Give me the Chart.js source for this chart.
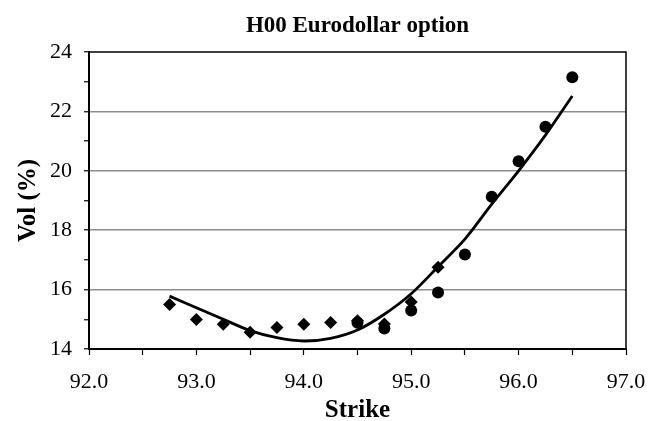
<!DOCTYPE html>
<html>
<head>
<meta charset="utf-8">
<script src="https://cdn.jsdelivr.net/npm/chart.js@4"></script>
<style>
  html, body { margin: 0; padding: 0; background: #fff; }
  #wrap { width: 655px; height: 421px; }
</style>
</head>
<body>
<div id="wrap"><canvas id="grafico" width="655" height="421"></canvas></div>
<script>
// strikes and vols
const strikesRombo = [92.75, 93.0, 93.25, 93.5, 93.75, 94.0, 94.25, 94.5, 94.75, 95.0, 95.25];
const volRombo = [15.50, 14.99, 14.83, 14.56, 14.72, 14.83, 14.89, 14.95, 14.84, 15.58, 16.75];

const strikesCirculo = [94.5, 94.75, 95.0, 95.25, 95.5, 95.75, 96.0, 96.25, 96.5];
const volCirculo = [14.88, 14.69, 15.30, 15.90, 17.18, 19.13, 20.32, 21.48, 23.15];

const strikesAjuste = [92.75, 93.0, 93.25, 93.5, 93.75, 94.0, 94.25, 94.5, 94.75, 95.0, 95.25, 95.5, 95.75, 96.0, 96.25, 96.5];
const volAjuste = [15.78, 15.39, 15.00, 14.62, 14.38, 14.27, 14.36, 14.64, 15.17, 15.86, 16.77, 17.70, 18.88, 20.00, 21.20, 22.52];

const xTicks = [92.0, 93.0, 94.0, 95.0, 96.0, 97.0];
const yTicks = [14, 16, 18, 20, 22, 24];

const fuente = "'Liberation Serif', 'Times New Roman', serif";

function puntos(xs, ys) {
    return xs.map((x, i) => ({ x: x, y: ys[i] }));
}

// marco de la zona del gráfico (arriba y derecha)
const marco = {
    id: 'marco',
    afterDraw(chart) {
        const a = chart.chartArea;
        const c = chart.ctx;
        c.save();
        c.strokeStyle = '#000';
        c.lineWidth = 1.5;
        c.beginPath();
        c.moveTo(a.left, a.top);
        c.lineTo(a.right, a.top);
        c.lineTo(a.right, a.bottom);
        c.stroke();
        c.restore();
    }
};

new Chart(document.getElementById('grafico').getContext('2d'), {
    type: 'scatter',
    data: {
        datasets: [
            {
                type: 'line',
                label: 'ajuste',
                data: puntos(strikesAjuste, volAjuste),
                borderColor: '#000',
                borderWidth: 2.8,
                pointRadius: 0,
                tension: 0.3,
                fill: false
            },
            {
                label: 'rombo',
                data: puntos(strikesRombo, volRombo),
                pointStyle: 'rectRot',
                pointRadius: 6.5,
                backgroundColor: '#000',
                borderColor: '#000',
                borderWidth: 0
            },
            {
                label: 'circulo',
                data: puntos(strikesCirculo, volCirculo),
                pointStyle: 'circle',
                pointRadius: 6,
                backgroundColor: '#000',
                borderColor: '#000',
                borderWidth: 0
            }
        ]
    },
    options: {
        responsive: false,
        animation: false,
        layout: { padding: { left: 16, right: 29, top: 0, bottom: 0 } },
        plugins: {
            legend: { display: false },
            tooltip: { enabled: false },
            title: {
                display: true,
                fullSize: false,
                text: 'H00 Eurodollar option',
                color: '#000',
                font: { family: fuente, size: 23, weight: 'bold', lineHeight: 1 },
                padding: { top: 15, bottom: 14 }
            }
        },
        scales: {
            x: {
                type: 'linear',
                min: 92, max: 97,
                afterBuildTicks: (ax) => {
                    const t = [];
                    for (let v = 92; v <= 97.001; v += 0.5) t.push({ value: v });
                    ax.ticks = t;
                },
                ticks: {
                    color: '#000',
                    font: { family: fuente, size: 22, lineHeight: 2.5 },
                    padding: 0,
                    maxRotation: 0,
                    autoSkip: false,
                    callback: (v) => xTicks.includes(v) ? v.toFixed(1) : ''
                },
                grid: { drawOnChartArea: false, tickLength: 6, tickColor: '#000', tickWidth: 1.2 },
                border: { color: '#000', width: 2 },
                title: {
                    display: true,
                    text: 'Strike',
                    color: '#000',
                    font: { family: fuente, size: 25, weight: 'bold', lineHeight: 0.8 },
                    padding: { top: -9, bottom: 0 }
                }
            },
            y: {
                min: 14, max: 24,
                ticks: {
                    stepSize: 1,
                    color: '#000',
                    font: { family: fuente, size: 22, lineHeight: 1 },
                    padding: 12,
                    autoSkip: false,
                    callback: (v) => yTicks.includes(v) ? String(v) : ''
                },
                grid: {
                    color: (ctx) => (ctx.tick && ctx.tick.value % 2 === 0 && ctx.tick.value > 14 && ctx.tick.value < 24) ? '#8c8c8c' : 'rgba(0,0,0,0)',
                    lineWidth: 1.5,
                    tickLength: 5,
                    tickColor: '#000',
                    tickWidth: 1.2
                },
                border: { color: '#000', width: 2 },
                title: {
                    display: true,
                    text: 'Vol (%)',
                    color: '#000',
                    font: { family: fuente, size: 25, weight: 'bold', lineHeight: 1 },
                    padding: { top: 0, bottom: -3 }
                }
            }
        }
    },
    plugins: [marco]
});
</script>
</body>
</html>
